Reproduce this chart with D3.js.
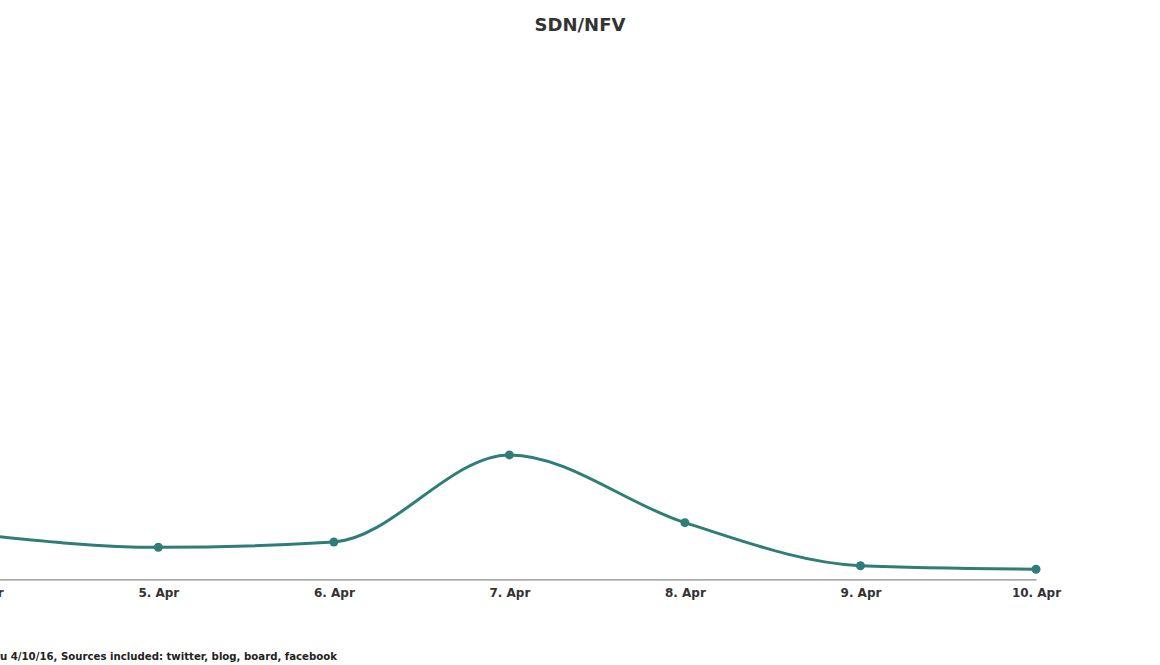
<!DOCTYPE html>
<html>
<head>
<meta charset="utf-8">
<script src="https://cdn.jsdelivr.net/npm/d3@7"></script>
<style>
  html, body { margin: 0; padding: 0; background: #fff; }
  svg { display: block; }
  text { font-family: "DejaVu Sans", sans-serif; }
</style>
</head>
<body>
<svg id="chart" width="1160" height="665"></svg>
<script>
const title = "SDN/NFV";
const categories = ["4. Apr", "5. Apr", "6. Apr", "7. Apr", "8. Apr", "9. Apr", "10. Apr"];
const values = [8.4, 6.05, 7.05, 23.5, 10.7, 2.57, 1.89];
const yDomain = [0, 100];
const footerPrefix = "Data from 4/4/16 thr";
const footerRest = "u 4/10/16, Sources included: twitter, blog, board, facebook";

const W = 1160, H = 665;
const svg = d3.select("#chart");

const x = d3.scalePoint().domain(categories).range([-17.2, 1036]);
const y = d3.scaleLinear().domain(yDomain).range([579.3, 50]);

svg.append("text")
  .attr("x", W / 2).attr("y", 31)
  .attr("text-anchor", "middle")
  .attr("font-size", 18).attr("font-weight", "bold").attr("fill", "#333")
  .text(title);

// x axis
const xAxis = d3.axisBottom(x).tickSize(0).tickPadding(9);
const gx = svg.append("g").attr("transform", `translate(0,${y(0)})`).call(xAxis);
gx.select(".domain").attr("stroke", "#8a8a8a").attr("stroke-width", 1.3);
gx.selectAll("text").attr("font-size", 12).attr("font-weight", "bold").attr("fill", "#333")
  .style("font-family", "'DejaVu Sans', sans-serif");

const line = d3.line()
  .x((d, i) => x(categories[i]))
  .y(d => y(d))
  .curve(d3.curveMonotoneX);

svg.append("path").datum(values)
  .attr("d", line)
  .attr("fill", "none")
  .attr("stroke", "#2f7d79")
  .attr("stroke-width", 3);

svg.selectAll("circle.pt").data(values).join("circle")
  .attr("class", "pt")
  .attr("cx", (d, i) => x(categories[i]))
  .attr("cy", d => y(d))
  .attr("r", 4.5)
  .attr("fill", "#2f7d79");

// footer (clipped on the left like the reference)
const ft = svg.append("text").attr("y", 660)
  .attr("font-size", 11.3).attr("font-weight", "bold").attr("fill", "#222")
  .style("font-family", "'DejaVu Sans Condensed', 'DejaVu Sans', sans-serif")
  .style("font-stretch", "condensed")
  .text(footerPrefix);
const prefixLen = ft.node().getComputedTextLength();
ft.text(footerPrefix + footerRest).attr("x", 0 - prefixLen);
</script>
</body>
</html>
